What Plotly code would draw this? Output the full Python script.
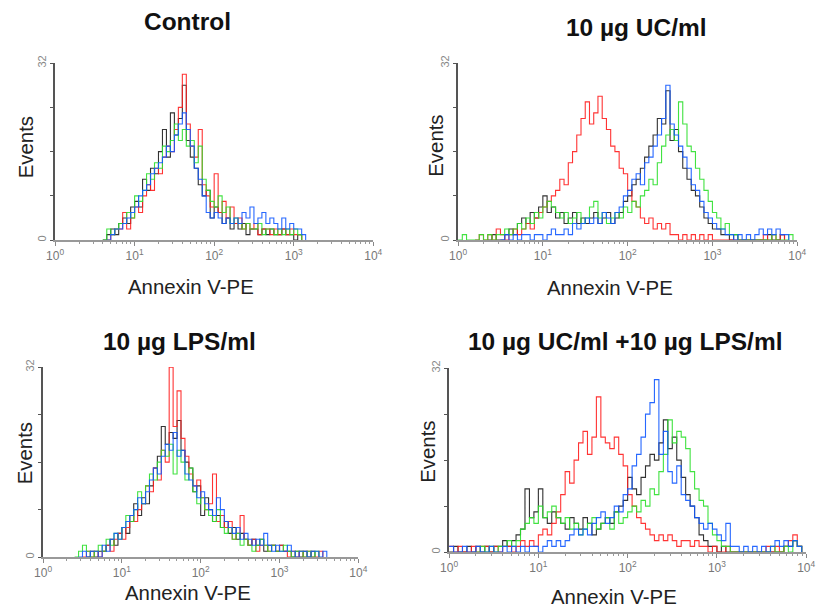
import plotly.graph_objects as go

# figure size (the browser window size)
W, H = 825, 609

# How a page pixel ends up in the photographed picture (measured from earlier
# renders): the page body adds an 8px margin, and the photo maps the page into
# the picture with an 8px offset and a slight shrink.
BODY_MARGIN = 8
PHOTO_BORDER = 8
SX = (W - 2 * PHOTO_BORDER) / W
SY = (H - 9) / H

# ---------------- data ----------------
# channel index: 20 channels per decade over 4 decades (10^0 .. 10^4)
CHANNELS = list(range(81))
CH_PER_DECADE = 20

DECADE_TICKS = [1, 10, 100, 1000, 10000]
DECADE_LABELS = ["10<sup>0</sup>", "10<sup>1</sup>", "10<sup>2</sup>", "10<sup>3</sup>", "10<sup>4</sup>"]
Y_TICKS = [0, 8, 16, 24, 32]
Y_LABELS = ["0", "", "", "", "32"]

PANEL_TITLES = ["Control", "10 µg UC/ml", "10 µg LPS/ml", "10 µg UC/ml +10 µg LPS/ml"]
X_TITLE = "Annexin V-PE"
Y_TITLE = "Events"
SERIES_NAMES = ["black", "red", "green", "blue"]

# Panel 1: Control
control_black = [0,0,0,0,0,0,0,0,0,0,
                 0,0,0,1,2,1,3,4,3,6,
                 7,6,11,9,13,12,16,20,15,23,
                 19,22,28,18,15,13,10,8,9,4,
                 6,5,3,4,2,3,2,3,1,2,
                 2,1,2,1,2,1,1,2,1,1,
                 0,1,0,0,0,0,0,0,0,0,
                 0,0,0,0,0,0,0,0,0,0,
                 0]
control_red = [0,0,0,0,0,0,0,0,0,0,
               0,0,0,0,1,2,2,5,2,4,
               6,5,8,10,9,13,12,15,17,16,
               20,24,30,21,17,15,20,10,8,6,
               12,5,7,4,6,3,4,2,3,2,
               3,1,2,2,1,2,1,2,1,2,
               1,1,0,0,0,0,0,0,0,0,
               0,0,0,0,0,0,0,0,0,0,
               0]
control_green = [0,0,0,0,0,0,0,0,0,0,
                 0,0,0,2,1,2,3,3,5,4,
                 8,7,9,12,11,14,13,17,16,18,
                 21,18,20,17,18,14,17,11,9,7,
                 6,8,5,6,3,4,3,2,3,2,
                 2,3,1,2,2,1,2,1,2,1,
                 2,1,0,0,0,0,0,0,0,0,
                 0,0,0,0,0,0,0,0,0,0,
                 0]
control_blue = [0,0,0,0,0,0,0,0,0,0,
                0,0,0,0,1,2,2,3,4,5,
                6,8,9,10,12,13,14,15,17,16,
                19,21,23,20,17,13,11,8,5,4,
                5,4,3,4,3,4,3,5,4,6,
                3,4,5,3,4,3,2,4,2,3,
                2,2,1,0,0,0,0,0,0,0,
                0,0,0,0,0,0,0,0,0,0,
                0]

# Panel 2: 10 µg UC/ml
uc_black = [0,0,0,0,0,0,0,0,1,0,
            0,1,2,1,3,4,3,5,4,6,
            8,5,6,4,5,3,4,5,3,4,
            3,4,5,3,4,5,3,4,5,7,
            8,10,11,13,15,17,19,22,21,27,
            18,20,16,13,11,9,8,6,4,3,
            2,2,1,1,0,1,0,0,0,0,
            0,0,0,1,0,0,1,0,0,0,
            0]
uc_red = [0,0,0,0,0,1,0,1,0,2,
          1,0,1,2,1,2,3,2,4,5,
          6,7,8,9,11,10,14,16,19,22,
          25,21,23,26,22,20,17,16,13,12,
          9,7,6,4,3,4,2,3,2,3,
          1,1,0,1,0,1,0,1,0,1,
          0,0,0,0,0,0,0,0,0,0,
          0,0,1,0,1,0,1,0,0,0,
          0]
uc_green = [0,1,0,0,0,1,0,1,0,1,
            1,2,1,2,3,2,4,3,5,4,
            6,7,6,5,4,5,3,4,5,3,
            4,6,7,4,5,3,4,5,4,6,
            5,7,6,8,9,11,10,14,17,19,
            20,18,25,21,17,16,13,11,9,7,
            5,4,2,3,1,1,0,0,0,0,
            0,0,0,0,1,0,0,0,1,0,
            0]
uc_blue = [0,0,0,0,0,0,0,0,0,0,
           0,1,0,1,0,1,1,0,1,1,
           0,1,2,1,1,2,1,3,2,3,
           4,3,4,3,5,4,3,5,6,8,
           9,11,12,10,14,15,17,19,22,28,
           21,19,17,15,13,10,9,7,5,4,
           3,2,2,1,1,0,1,0,1,0,
           1,2,1,2,1,2,1,1,0,0,
           0]

# Panel 3: 10 µg LPS/ml
lps_black = [0,0,0,0,0,0,0,0,0,0,
             0,0,1,0,1,1,2,3,2,4,
             5,4,6,9,7,10,9,12,15,17,
             22,19,21,20,23,18,16,15,11,12,
             7,10,8,6,7,5,6,4,5,3,
             4,3,2,3,2,3,1,2,2,1,
             2,1,1,0,1,0,1,0,1,0,
             0,0,0,0,0,0,0,0,0,0,
             0]
lps_red = [0,0,0,0,0,0,0,0,0,0,
           0,1,0,1,0,1,2,1,3,4,
           3,5,7,6,8,9,12,11,15,13,
           18,16,32,22,28,20,17,14,12,13,
           10,8,9,14,6,7,5,6,3,4,
           7,3,2,3,1,2,2,1,2,1,
           2,1,0,1,0,1,0,1,0,0,
           1,0,0,0,0,0,0,0,0,0,
           0]
lps_green = [0,0,0,0,0,0,0,0,0,1,
             2,1,0,1,2,1,3,2,4,3,
             5,7,6,8,11,9,12,14,13,16,
             18,17,19,14,18,16,13,15,11,9,
             10,8,7,6,8,5,4,5,3,4,
             2,3,2,1,2,3,2,1,2,1,
             1,2,1,0,1,1,0,1,0,1,
             0,0,0,0,0,0,0,0,0,0,
             0]
lps_blue = [0,0,0,0,0,0,0,0,0,0,
            1,0,1,1,0,2,1,3,4,3,
            5,6,7,8,10,9,11,13,15,14,
            17,19,18,21,17,18,14,13,12,10,
            11,9,8,7,10,8,6,5,4,5,
            3,4,3,2,3,2,4,2,1,2,
            1,1,2,1,0,1,1,0,1,1,
            0,1,0,0,0,0,0,0,0,0,
            0]

# Panel 4: 10 µg UC/ml + 10 µg LPS/ml
mix_black = [0,1,0,0,1,0,1,0,1,0,
             1,1,2,1,2,3,4,11,6,7,
             11,6,5,7,6,5,4,6,5,4,
             6,5,3,4,5,6,5,7,8,9,
             13,11,10,13,15,17,16,19,23,18,
             20,16,13,10,8,6,3,2,1,1,
             0,1,0,0,0,0,0,0,0,0,
             0,0,0,0,0,1,1,2,1,0,
             0]
mix_red = [1,0,1,0,0,1,0,1,1,0,
           1,0,1,1,0,1,2,1,2,1,
           3,4,3,5,7,10,14,12,16,19,
           21,17,20,27,20,19,18,20,17,15,
           10,8,6,5,4,3,2,3,2,3,
           2,1,2,2,1,2,1,1,0,1,
           0,0,1,0,0,0,0,0,0,0,
           0,1,0,1,0,1,2,3,1,0,
           0]
mix_green = [0,0,0,0,0,0,0,1,0,1,
             0,1,1,2,1,2,4,5,6,5,
             8,6,7,8,6,5,6,4,5,3,
             4,5,6,4,5,6,4,7,5,6,
             7,8,7,9,8,11,10,14,17,23,
             19,21,20,18,14,11,9,8,5,3,
             2,1,1,0,0,0,0,0,0,0,
             0,0,1,0,0,1,0,2,1,0,
             0]
mix_blue = [1,0,0,1,0,0,1,0,0,1,
            0,0,1,0,1,0,1,0,1,1,
            0,1,2,1,2,1,2,3,4,3,
            4,3,5,6,7,5,6,8,7,10,
            11,15,17,20,24,26,30,17,21,14,
            12,15,10,9,8,6,5,4,5,4,
            3,2,5,1,1,0,1,0,1,0,
            1,0,1,2,1,2,1,2,1,0,
            0]

PANEL_SERIES = [
    [control_black, control_red, control_green, control_blue],
    [uc_black, uc_red, uc_green, uc_blue],
    [lps_black, lps_red, lps_green, lps_blue],
    [mix_black, mix_red, mix_green, mix_blue],
]

# ---------------- styling / layout ----------------
COLORS = ["#1e1e1e", "#ff2020", "#2ee02e", "#1058ff"]
FONT = "Arial, Liberation Sans, Helvetica, sans-serif"

# target positions in picture pixels
BOXES = [(54, 373, 63, 240), (458, 798, 63, 240), (42, 358, 367, 557), (449, 807, 368, 552)]
TITLE_POS = [(187, 21.5), (637, 27), (179, 341.5), (625, 341.5)]
XTITLE_POS = [(190, 287), (610, 288), (187, 593), (614, 597)]
YTITLE_POS = [(25, 147), (436.5, 146), (24, 453), (427.5, 452)]

FS = 1 / SX  # font compensation for the photo shrink


def px(x):
    return ((x - PHOTO_BORDER) / SX - BODY_MARGIN) / W


def py(y):
    return 1 - ((y - PHOTO_BORDER) / SY - BODY_MARGIN) / H


def span(vals):
    nz = [i for i, v in enumerate(vals) if v > 0]
    return max(nz[0] - 1, 0), min(nz[-1] + 2, len(vals))


x_vals = [10 ** (c / CH_PER_DECADE) for c in CHANNELS]

fig = go.Figure()
minor_vals = [m * d for d in [1, 10, 100, 1000] for m in range(2, 10)]

for p, series in enumerate(PANEL_SERIES):
    sfx = "" if p == 0 else str(p + 1)
    for name, vals, col in zip(SERIES_NAMES, series, COLORS):
        a, b = span(vals)
        fig.add_trace(go.Scatter(
            x=x_vals[a:b], y=vals[a:b], mode="lines", name=name,
            line=dict(color=col, width=1.1, shape="hv"),
            xaxis="x" + sfx, yaxis="y" + sfx, showlegend=False,
            opacity=0.9,
        ))
    x0, x1, yt, yb = BOXES[p]
    fig.layout["xaxis" + sfx] = dict(
        type="log", range=[0, 4], domain=[px(x0), px(x1)], anchor="y" + sfx,
        tickmode="array", tickvals=DECADE_TICKS, ticktext=DECADE_LABELS,
        ticks="outside", ticklen=4, tickcolor="#888", tickwidth=1,
        showline=True, linecolor="#999", linewidth=1.5,
        showgrid=False, zeroline=False,
        tickfont=dict(family=FONT, size=12, color="#777"),
        minor=dict(tickmode="array", tickvals=minor_vals, ticks="outside",
                   ticklen=2, tickcolor="#999", showgrid=False),
    )
    fig.layout["yaxis" + sfx] = dict(
        range=[0, 32], domain=[py(yb), py(yt)], anchor="x" + sfx,
        tickmode="array", tickvals=Y_TICKS, ticktext=Y_LABELS,
        ticks="outside", ticklen=3, tickcolor="#555", tickwidth=1,
        showline=True, linecolor="#555", linewidth=1.5,
        showgrid=False, zeroline=False, tickangle=-90,
        tickfont=dict(family=FONT, size=11, color="#888"),
    )
    tx, ty = TITLE_POS[p]
    fig.add_annotation(x=px(tx), y=py(ty), xref="paper", yref="paper",
                       text="<b>" + PANEL_TITLES[p] + "</b>", showarrow=False,
                       xanchor="center", yanchor="middle",
                       font=dict(family=FONT, size=24 * FS, color="#111"))
    ax_, ay_ = XTITLE_POS[p]
    fig.add_annotation(x=px(ax_), y=py(ay_), xref="paper", yref="paper",
                       text=X_TITLE, showarrow=False,
                       xanchor="center", yanchor="middle",
                       font=dict(family=FONT, size=20 * FS, color="#222"))
    ex, ey = YTITLE_POS[p]
    fig.add_annotation(x=px(ex), y=py(ey), xref="paper", yref="paper",
                       text=Y_TITLE, showarrow=False, textangle=-90,
                       xanchor="center", yanchor="middle",
                       font=dict(family=FONT, size=20 * FS, color="#222"))

fig.update_layout(
    width=W, height=H, margin=dict(l=0, r=0, t=0, b=0),
    paper_bgcolor="white", plot_bgcolor="white",
    font=dict(family=FONT),
)

fig.write_html("out.html")
